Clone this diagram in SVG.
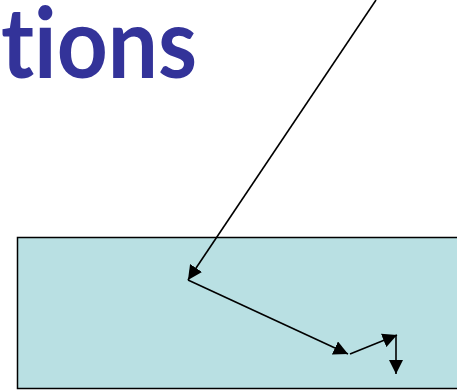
<svg xmlns="http://www.w3.org/2000/svg" width="457" height="390" viewBox="0 0 457 390">
<style>
.title{font-family:Lato,"Open Sans","Liberation Sans",sans-serif;font-weight:bold;font-size:97px;fill:#333399;font-variant-ligatures:none;font-feature-settings:"liga" 0}
.ray{stroke:#000;stroke-width:1.6;fill:none;marker-end:url(#ah)}
</style>
<defs>
<marker id="ah" viewBox="0 0 10 10" refX="10" refY="5" markerWidth="9" markerHeight="9" markerUnits="strokeWidth" orient="auto">
<path d="M0,0 L10,5 L0,10 Z" fill="#000"/>
</marker>
</defs>
<g id="title"><text class="title" x="1" y="78" textLength="196" lengthAdjust="spacingAndGlyphs">tions</text></g>
<g id="block"><rect x="17.5" y="237.5" width="450" height="151" fill="#B9E0E3" stroke="#000" stroke-width="1.5"/></g>
<g id="connectors">
<line class="ray" x1="376" y1="0" x2="188" y2="280"/>
<line class="ray" x1="188" y1="280" x2="348" y2="354"/>
<line class="ray" x1="350" y1="354" x2="397" y2="335"/>
<line class="ray" x1="396" y1="335" x2="396" y2="374"/>
</g>
</svg>
